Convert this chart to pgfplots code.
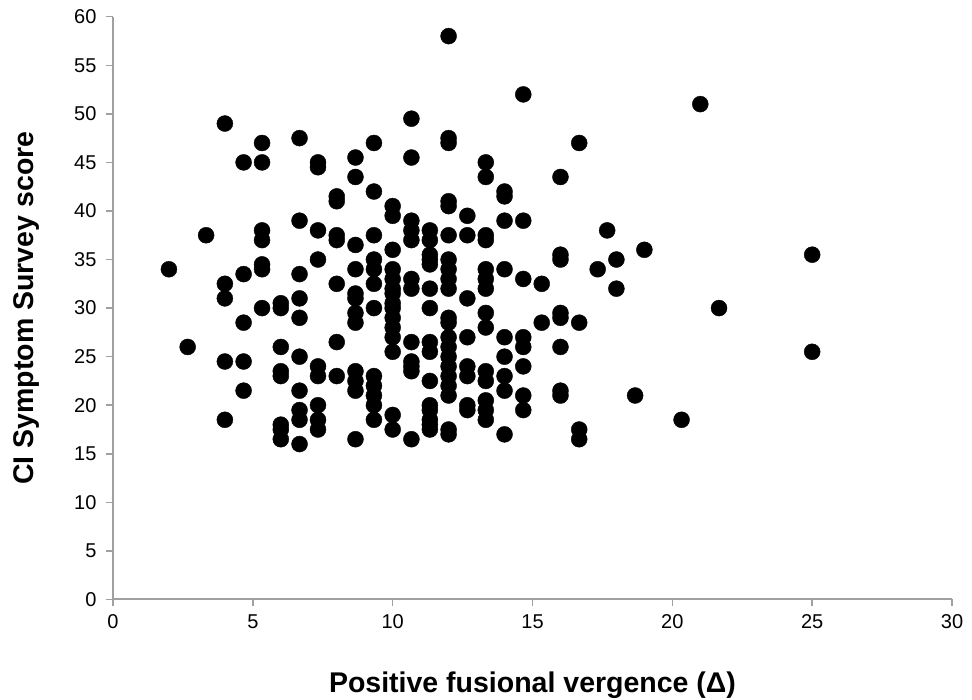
\documentclass[border=0pt]{standalone}
\usepackage{fontspec}
\setmainfont{Liberation Sans}
\usepackage{pgfplots}
\pgfplotsset{compat=1.18}
\definecolor{axisgray}{RGB}{160,160,160}
\begin{document}
\begin{tikzpicture}
\begin{axis}[
  at={(0,0)}, anchor=south west,
  width=839pt, height=582.8pt, scale only axis,
  xmin=0, xmax=30, ymin=0, ymax=60,
  xtick={0,5,...,30}, ytick={0,5,...,60},
  axis lines*=left,
  axis line style={draw=axisgray, line width=2pt, -},
  tick style={draw=axisgray, line width=1.5pt},
  tick align=outside, major tick length=7pt,
  /pgf/number format/assume math mode=true,
  ticklabel style={font=\fontsize{20}{24}\selectfont, text=black},
  yticklabel style={xshift=-6pt},
  xticklabel style={yshift=-5pt},
  xlabel={Positive fusional vergence (Δ)},
  ylabel={CI Symptom Survey score},
  label style={font=\fontsize{28.5}{32}\selectfont\bfseries},
  xlabel style={at={(axis description cs:0.5,-0.1244)}, anchor=north, inner sep=0pt},
  ylabel style={at={(axis description cs:-0.1192,0.5)}, anchor=north, inner sep=0pt},
  clip=false,
]
\addplot[only marks, mark=*, mark size=8pt, mark options={fill=black, draw=black}] table {
x y
2 34
2.67 26
3.33 37.5
4 49
4 32.5
4 31
4 24.5
4 18.5
4.67 45
4.67 33.5
4.67 28.5
4.67 24.5
4.67 21.5
5.33 47
5.33 45
5.33 38
5.33 37
5.33 34.5
5.33 34
5.33 30
6 30.5
6 30
6 26
6 23.5
6 23
6 18
6 17.5
6 16.5
6.67 47.5
6.67 39
6.67 33.5
6.67 31
6.67 29
6.67 25
6.67 21.5
6.67 19.5
6.67 18.5
6.67 16
7.33 45
7.33 44.5
7.33 38
7.33 35
7.33 24
7.33 23
7.33 20
7.33 18.5
7.33 17.5
8 41.5
8 41
8 37.5
8 37
8 32.5
8 26.5
8 23
8.67 45.5
8.67 43.5
8.67 36.5
8.67 34
8.67 31.5
8.67 31
8.67 29.5
8.67 28.5
8.67 23.5
8.67 22.5
8.67 21.5
8.67 16.5
9.33 47
9.33 42
9.33 37.5
9.33 35
9.33 34
9.33 32.5
9.33 30
9.33 23
9.33 22
9.33 21
9.33 20
9.33 18.5
10 40.5
10 39.5
10 36
10 34
10 33
10 32
10 31.5
10 30.5
10 30
10 29
10 28
10 27
10 25.5
10 19
10 17.5
10.67 49.5
10.67 45.5
10.67 39
10.67 38
10.67 37
10.67 33
10.67 32
10.67 26.5
10.67 24.5
10.67 24
10.67 23.5
10.67 16.5
11.33 38
11.33 37
11.33 35.5
11.33 35
11.33 34.5
11.33 32
11.33 30
11.33 26.5
11.33 25.5
11.33 22.5
11.33 20
11.33 19.5
11.33 18.5
11.33 18
11.33 17.5
12 58
12 47.5
12 47
12 41
12 40.5
12 37.5
12 35
12 34
12 33
12 32
12 29
12 28.5
12 27
12 26
12 25
12 24
12 23
12 22
12 21
12 17.5
12 17
12.67 39.5
12.67 37.5
12.67 31
12.67 27
12.67 24
12.67 23
12.67 20
12.67 19.5
13.33 45
13.33 43.5
13.33 37.5
13.33 37
13.33 34
13.33 33
13.33 32
13.33 29.5
13.33 28
13.33 23.5
13.33 22.5
13.33 20.5
13.33 19.5
13.33 18.5
14 42
14 41.5
14 39
14 34
14 27
14 25
14 23
14 21.5
14 17
14.67 52
14.67 39
14.67 33
14.67 27
14.67 26
14.67 24
14.67 21
14.67 19.5
15.33 32.5
15.33 28.5
16 43.5
16 35.5
16 35
16 29.5
16 29
16 26
16 21.5
16 21
16.67 47
16.67 28.5
16.67 17.5
16.67 16.5
17.33 34
17.67 38
18 35
18 32
18.67 21
19 36
20.33 18.5
21 51
21.67 30
25 35.5
25 25.5
};
\end{axis}
\path (-113pt,-100.5pt) rectangle (859pt,599.5pt);
\end{tikzpicture}
\end{document}
